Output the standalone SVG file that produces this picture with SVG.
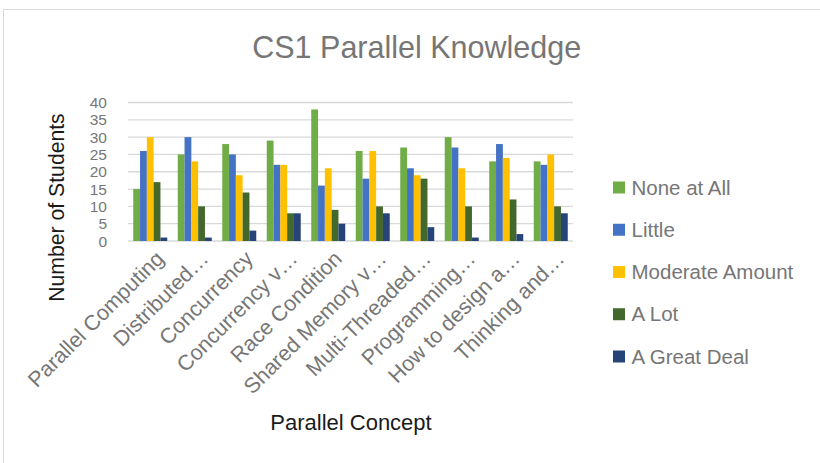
<svg xmlns="http://www.w3.org/2000/svg" width="820" height="463" viewBox="0 0 820 463">
<style>
.txt{font-family:"Liberation Sans",Arial,sans-serif}
.gray{fill:#767676}
.dark{fill:#1a1a1a}
.grid{stroke:#D9D9D9;stroke-width:1.3}
.s1{fill:#70AD47}.s2{fill:#4472C4}.s3{fill:#FFC000}.s4{fill:#43682B}.s5{fill:#264478}
.tick{font-size:15.5px;text-anchor:end}
.xl{font-size:21.5px;text-anchor:end}
.lg{font-size:20.5px}
</style>
<rect x="0" y="0" width="820" height="463" fill="#fff"/>
<rect id="frame" x="3.5" y="9.5" width="840" height="480" fill="none" stroke="#D9D9D9" stroke-width="1"/>
<text id="title" class="txt gray" x="416.7" y="58.3" font-size="30.5" text-anchor="middle">CS1 Parallel Knowledge</text>
<g id="gridlines" class="grid">
<line x1="128" y1="241" x2="573" y2="241"/>
<line x1="128" y1="223.69" x2="573" y2="223.69"/>
<line x1="128" y1="206.38" x2="573" y2="206.38"/>
<line x1="128" y1="189.06" x2="573" y2="189.06"/>
<line x1="128" y1="171.75" x2="573" y2="171.75"/>
<line x1="128" y1="154.44" x2="573" y2="154.44"/>
<line x1="128" y1="137.13" x2="573" y2="137.13"/>
<line x1="128" y1="119.81" x2="573" y2="119.81"/>
<line x1="128" y1="102.5" x2="573" y2="102.5"/>
</g>
<g id="y-ticks" class="txt gray tick">
<text x="107" y="246.6">0</text>
<text x="107" y="229.3">5</text>
<text x="107" y="212">10</text>
<text x="107" y="194.7">15</text>
<text x="107" y="177.4">20</text>
<text x="107" y="160">25</text>
<text x="107" y="142.7">30</text>
<text x="107" y="125.4">35</text>
<text x="107" y="108.1">40</text>
</g>
<text id="y-title" class="txt dark" font-size="21.2" text-anchor="middle" transform="translate(63.5,207.5) rotate(-90)">Number of Students</text>
<g id="bars">
<g id="cat1" transform="translate(133.25,241) scale(1,-3.4625)"><rect class="s1" x="0" width="6.8" height="15"/><rect class="s2" x="6.8" width="6.8" height="26"/><rect class="s3" x="13.6" width="6.8" height="30"/><rect class="s4" x="20.4" width="6.8" height="17"/><rect class="s5" x="27.2" width="6.8" height="1"/></g>
<g id="cat2" transform="translate(177.75,241) scale(1,-3.4625)"><rect class="s1" x="0" width="6.8" height="25"/><rect class="s2" x="6.8" width="6.8" height="30"/><rect class="s3" x="13.6" width="6.8" height="23"/><rect class="s4" x="20.4" width="6.8" height="10"/><rect class="s5" x="27.2" width="6.8" height="1"/></g>
<g id="cat3" transform="translate(222.25,241) scale(1,-3.4625)"><rect class="s1" x="0" width="6.8" height="28"/><rect class="s2" x="6.8" width="6.8" height="25"/><rect class="s3" x="13.6" width="6.8" height="19"/><rect class="s4" x="20.4" width="6.8" height="14"/><rect class="s5" x="27.2" width="6.8" height="3"/></g>
<g id="cat4" transform="translate(266.75,241) scale(1,-3.4625)"><rect class="s1" x="0" width="6.8" height="29"/><rect class="s2" x="6.8" width="6.8" height="22"/><rect class="s3" x="13.6" width="6.8" height="22"/><rect class="s4" x="20.4" width="6.8" height="8"/><rect class="s5" x="27.2" width="6.8" height="8"/></g>
<g id="cat5" transform="translate(311.25,241) scale(1,-3.4625)"><rect class="s1" x="0" width="6.8" height="38"/><rect class="s2" x="6.8" width="6.8" height="16"/><rect class="s3" x="13.6" width="6.8" height="21"/><rect class="s4" x="20.4" width="6.8" height="9"/><rect class="s5" x="27.2" width="6.8" height="5"/></g>
<g id="cat6" transform="translate(355.75,241) scale(1,-3.4625)"><rect class="s1" x="0" width="6.8" height="26"/><rect class="s2" x="6.8" width="6.8" height="18"/><rect class="s3" x="13.6" width="6.8" height="26"/><rect class="s4" x="20.4" width="6.8" height="10"/><rect class="s5" x="27.2" width="6.8" height="8"/></g>
<g id="cat7" transform="translate(400.25,241) scale(1,-3.4625)"><rect class="s1" x="0" width="6.8" height="27"/><rect class="s2" x="6.8" width="6.8" height="21"/><rect class="s3" x="13.6" width="6.8" height="19"/><rect class="s4" x="20.4" width="6.8" height="18"/><rect class="s5" x="27.2" width="6.8" height="4"/></g>
<g id="cat8" transform="translate(444.75,241) scale(1,-3.4625)"><rect class="s1" x="0" width="6.8" height="30"/><rect class="s2" x="6.8" width="6.8" height="27"/><rect class="s3" x="13.6" width="6.8" height="21"/><rect class="s4" x="20.4" width="6.8" height="10"/><rect class="s5" x="27.2" width="6.8" height="1"/></g>
<g id="cat9" transform="translate(489.25,241) scale(1,-3.4625)"><rect class="s1" x="0" width="6.8" height="23"/><rect class="s2" x="6.8" width="6.8" height="28"/><rect class="s3" x="13.6" width="6.8" height="24"/><rect class="s4" x="20.4" width="6.8" height="12"/><rect class="s5" x="27.2" width="6.8" height="2"/></g>
<g id="cat10" transform="translate(533.75,241) scale(1,-3.4625)"><rect class="s1" x="0" width="6.8" height="23"/><rect class="s2" x="6.8" width="6.8" height="22"/><rect class="s3" x="13.6" width="6.8" height="25"/><rect class="s4" x="20.4" width="6.8" height="10"/><rect class="s5" x="27.2" width="6.8" height="8"/></g>
</g>
<g id="x-labels" class="txt gray xl">
<text transform="translate(165.25,260) rotate(-45)">Parallel Computing</text>
<text transform="translate(209.75,260) rotate(-45)">Distributed…</text>
<text transform="translate(254.25,260) rotate(-45)">Concurrency</text>
<text transform="translate(298.75,260) rotate(-45)">Concurrency v…</text>
<text transform="translate(343.25,260) rotate(-45)">Race Condition</text>
<text transform="translate(387.75,260) rotate(-45)">Shared Memory v…</text>
<text transform="translate(432.25,260) rotate(-45)">Multi-Threaded…</text>
<text transform="translate(476.75,260) rotate(-45)">Programming…</text>
<text transform="translate(521.25,260) rotate(-45)">How to design a…</text>
<text transform="translate(565.75,260) rotate(-45)">Thinking and…</text>
</g>
<text id="x-title" class="txt dark" x="351" y="430" font-size="22" text-anchor="middle">Parallel Concept</text>
<g id="legend" class="txt gray lg">
<g id="leg1"><rect class="s1" x="613" y="181.5" width="12" height="12"/><text x="631.5" y="194.5">None at All</text></g>
<g id="leg2"><rect class="s2" x="613" y="223.75" width="12" height="12"/><text x="631.5" y="236.75">Little</text></g>
<g id="leg3"><rect class="s3" x="613" y="266" width="12" height="12"/><text x="631.5" y="279">Moderate Amount</text></g>
<g id="leg4"><rect class="s4" x="613" y="308.25" width="12" height="12"/><text x="631.5" y="321.25">A Lot</text></g>
<g id="leg5"><rect class="s5" x="613" y="350.5" width="12" height="12"/><text x="631.5" y="363.5">A Great Deal</text></g>
</g>
</svg>
